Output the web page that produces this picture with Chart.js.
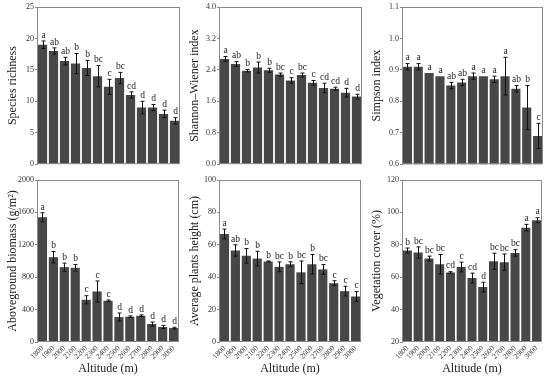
<!DOCTYPE html>
<html>
<head>
<meta charset="utf-8">
<script src="https://cdn.jsdelivr.net/npm/chart.js@4.4.1/dist/chart.umd.min.js"></script>
<style>
html,body{margin:0;padding:0;background:#fff;}
body{width:550px;height:377px;position:relative;overflow:hidden;}
.p{position:absolute;}
</style>
</head>
<body>
<div class="p" style="left:0;top:0;width:182px;height:170px"><canvas id="c1"></canvas></div>
<div class="p" style="left:182px;top:0;width:182px;height:170px"><canvas id="c2"></canvas></div>
<div class="p" style="left:364px;top:0;width:181px;height:170px"><canvas id="c3"></canvas></div>
<div class="p" style="left:0;top:172px;width:182px;height:205px"><canvas id="c4"></canvas></div>
<div class="p" style="left:182px;top:172px;width:182px;height:205px"><canvas id="c5"></canvas></div>
<div class="p" style="left:364px;top:172px;width:181px;height:205px"><canvas id="c6"></canvas></div>
<script>
const altitudes = ['1800','1900','2000','2100','2200','2300','2400','2500','2600','2700','2800','2900','3000'];

const richness = [19.0, 18.0, 16.4, 16.0, 15.3, 14.0, 12.3, 13.7, 11.0, 9.0, 9.0, 8.0, 6.9];
const richnessErr = [0.6, 0.5, 0.6, 1.6, 1.2, 1.7, 1.2, 0.9, 0.5, 1.0, 0.5, 0.6, 0.5];
const richnessLetters = ['a','ab','ab','b','b','bc','c','bc','cd','d','d','d','d'];

const shannon = [2.68, 2.55, 2.38, 2.46, 2.39, 2.28, 2.13, 2.27, 2.07, 1.94, 1.92, 1.82, 1.72];
const shannonErr = [0.06, 0.06, 0.03, 0.14, 0.05, 0.04, 0.07, 0.05, 0.06, 0.12, 0.04, 0.11, 0.06];
const shannonLetters = ['a','ab','b','b','b','bc','c','bc','c','cd','cd','d','d'];

const simpson = [0.91, 0.91, 0.89, 0.88, 0.85, 0.86, 0.88, 0.88, 0.87, 0.88, 0.84, 0.78, 0.69];
const simpsonErr = [0.01, 0.01, 0, 0, 0.01, 0.01, 0.01, 0, 0.01, 0.06, 0.01, 0.07, 0.04];
const simpsonLetters = ['a','a','a','a','ab','ab','a','a','a','a','ab','b','c'];

const biomass = [1540, 1047, 924, 916, 521, 624, 509, 308, 312, 324, 222, 185, 172];
const biomassErr = [55, 70, 50, 40, 50, 130, 10, 50, 10, 10, 25, 20, 10];
const biomassLetters = ['a','b','b','b','c','c','c','d','d','d','d','d','d'];

const height = [66.7, 56.5, 53.2, 51.5, 49.7, 46.4, 48.0, 43.0, 48.0, 44.8, 36.3, 31.4, 28.1];
const heightErr = [3, 3.5, 4.5, 4.5, 0.3, 3, 1.5, 7, 6, 3, 1.5, 3, 3];
const heightLetters = ['a','ab','b','b','b','bc','b','bc','b','bc','c','c','c'];

const cover = [76.5, 75.2, 71.5, 68.0, 62.9, 66.3, 59.5, 53.9, 69.8, 69.3, 75.0, 90.6, 95.2];
const coverErr = [1.5, 3.5, 1.5, 6, 0.5, 3, 3, 3, 5, 5, 2, 2, 1.5];
const coverLetters = ['b','bc','bc','bc','cd','c','cd','d','bc','bc','bc','a','a'];

const SERIF = '"Liberation Serif", "Times New Roman", serif';

const errPlugin = {
  id: 'errbars',
  afterDatasetsDraw(chart) {
    const ctx = chart.ctx;
    const a = chart.chartArea;
    const y = chart.scales.y;
    const ds = chart.data.datasets[0];
    const meta = chart.getDatasetMeta(0);
    ctx.save();
    ctx.strokeStyle = '#111';
    ctx.lineWidth = 1;
    ctx.fillStyle = '#222';
    ctx.font = '9.5px ' + SERIF;
    ctx.textAlign = 'center';
    ctx.textBaseline = 'bottom';
    meta.data.forEach((bar, i) => {
      const v = ds.data[i], e = ds.errs[i];
      const x = Math.round(bar.x) + 0.5;
      const yt = y.getPixelForValue(v + e);
      const yb = y.getPixelForValue(v - e);
      if (e > 0) {
        ctx.beginPath();
        ctx.moveTo(x, yt); ctx.lineTo(x, yb);
        ctx.moveTo(x - 2, yt); ctx.lineTo(x + 2, yt);
        ctx.moveTo(x - 2, yb); ctx.lineTo(x + 2, yb);
        ctx.stroke();
      }
      ctx.fillText(ds.letters[i], x, Math.min(yt, bar.y) - 1);
    });
    ctx.strokeStyle = '#8a8a8a';
    ctx.strokeRect(a.left + 0.5, a.top + 0.5, a.right - a.left - 1, a.bottom - a.top - 1);
    ctx.restore();
  }
};

function makePanel(id, values, errs, letters, title, yMin, yMax, step, decimals, bottomRow) {
  const yWidth = (id === 'c3' || id === 'c6') ? 38 : 37;
  new Chart(document.getElementById(id), {
    type: 'bar',
    data: {
      labels: altitudes,
      datasets: [{
        data: values,
        errs: errs,
        letters: letters,
        backgroundColor: '#474747',
        borderWidth: 0,
        barPercentage: 0.84,
        categoryPercentage: 1.0
      }]
    },
    options: {
      responsive: true,
      maintainAspectRatio: false,
      animation: false,
      devicePixelRatio: 1,
      layout: { padding: { top: bottomRow ? 8 : 7, right: 2, bottom: bottomRow ? 0 : 2, left: 0 } },
      plugins: { legend: { display: false }, tooltip: { enabled: false } },
      scales: {
        x: {
          display: bottomRow,
          grid: { display: false, drawTicks: false },
          border: { display: false },
          ticks: {
            color: '#333',
            font: { family: SERIF, size: 7.5 },
            minRotation: 45, maxRotation: 45,
            padding: 2,
            autoSkip: false
          },
          title: {
            display: bottomRow,
            text: 'Altitude (m)',
            color: '#222',
            font: { family: SERIF, size: 12 },
            padding: { top: 0, bottom: 1 }
          },
          afterFit(s) { if (bottomRow) s.height = 35; }
        },
        y: {
          min: yMin, max: yMax,
          grid: { display: true, drawOnChartArea: false, drawTicks: true, tickLength: 2, color: '#8a8a8a' },
          border: { display: true, color: '#8a8a8a' },
          ticks: {
            stepSize: step,
            color: '#333',
            font: { family: SERIF, size: 8 },
            padding: 1,
            callback: v => Number(v).toFixed(decimals)
          },
          title: {
            display: true,
            text: title,
            color: '#222',
            font: { family: SERIF, size: 12 },
            padding: { top: 6, bottom: 0 }
          },
          afterFit(s) { s.width = yWidth; }
        }
      }
    },
    plugins: [errPlugin]
  });
}

makePanel('c1', richness, richnessErr, richnessLetters, 'Species richness', 0, 25, 5, 0, false);
makePanel('c2', shannon, shannonErr, shannonLetters, 'Shannon–Wiener index', 0, 4, 0.8, 1, false);
makePanel('c3', simpson, simpsonErr, simpsonLetters, 'Simpson index', 0.6, 1.1, 0.1, 1, false);
makePanel('c4', biomass, biomassErr, biomassLetters, 'Aboveground biomass (g/m²)', 0, 2000, 400, 0, true);
makePanel('c5', height, heightErr, heightLetters, 'Average plants height (cm)', 0, 100, 20, 0, true);
makePanel('c6', cover, coverErr, coverLetters, 'Vegetation cover (%)', 20, 120, 20, 0, true);
</script>
</body>
</html>
